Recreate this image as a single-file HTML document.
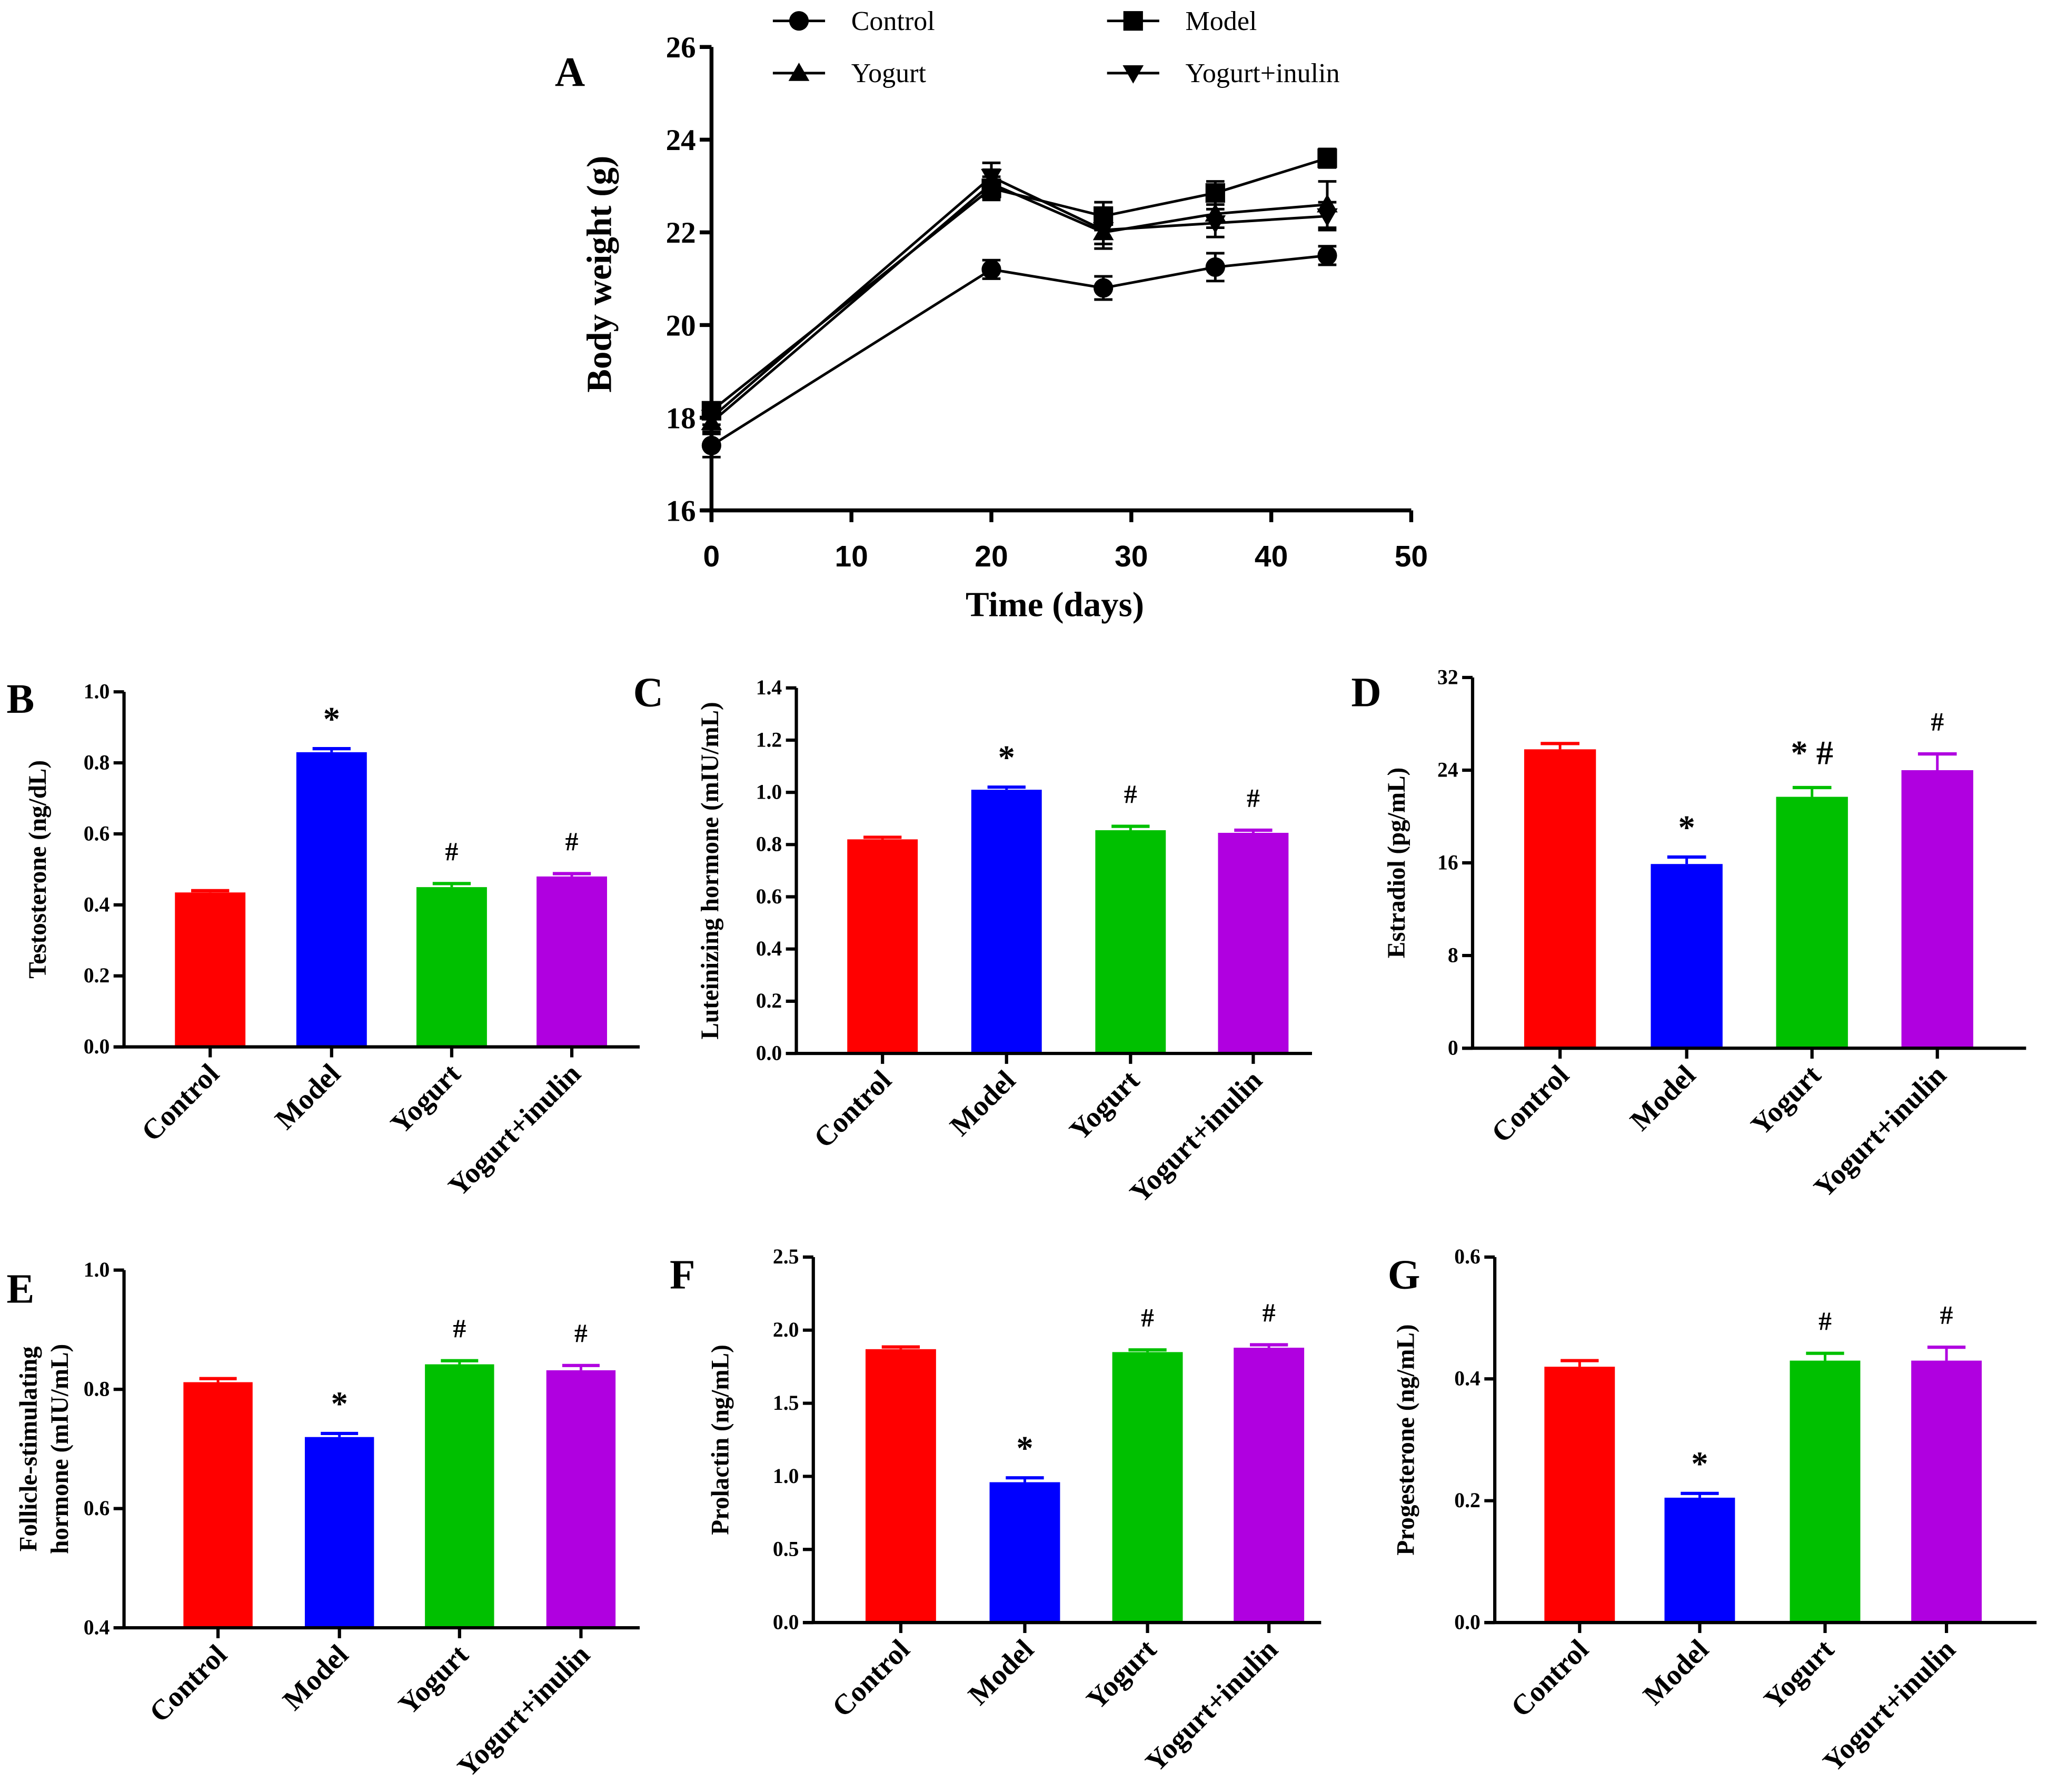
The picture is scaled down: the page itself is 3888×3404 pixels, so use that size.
<!DOCTYPE html>
<html><head><meta charset="utf-8"><style>
html,body{margin:0;padding:0;background:#fff;}
svg{display:block;}
text{font-family:"Liberation Serif",serif;fill:#000;}
.sans{font-family:"Liberation Sans",sans-serif;}
</style></head><body>
<svg id="fig" xmlns="http://www.w3.org/2000/svg" width="3888" height="3404" viewBox="0 0 1568 1372.8"></svg>
<script>
// ---------- Panel A data ----------
const daysA = [0, 20, 28, 36, 44];
const seriesNamesA = ["Control", "Model", "Yogurt", "Yogurt+inulin"];
const controlA = [17.4, 21.2, 20.8, 21.25, 21.5];
const modelA = [18.15, 22.95, 22.35, 22.85, 23.6];
const yogurtA = [17.9, 23.05, 22.0, 22.4, 22.6];
const inulinA = [18.0, 23.2, 22.05, 22.2, 22.35];
const controlErrA = [0.25, 0.2, 0.25, 0.3, 0.2];
const modelErrA = [0.15, 0.25, 0.3, 0.25, 0.2];
const yogurtErrA = [0.2, 0.3, 0.35, 0.3, 0.5];
const inulinErrA = [0.15, 0.3, 0.3, 0.3, 0.3];
const yTicksA = [16, 18, 20, 22, 24, 26];
const xTicksA = [0, 10, 20, 30, 40, 50];

// ---------- Bar panels data ----------
const groups = ["Control", "Model", "Yogurt", "Yogurt+inulin"];
const testosterone = [0.435, 0.83, 0.45, 0.48];
const testosteroneErr = [0.005, 0.01, 0.01, 0.008];
const testosteroneTicks = [0.0, 0.2, 0.4, 0.6, 0.8, 1.0];
const lh = [0.82, 1.01, 0.855, 0.845];
const lhErr = [0.008, 0.01, 0.015, 0.01];
const lhTicks = [0.0, 0.2, 0.4, 0.6, 0.8, 1.0, 1.2, 1.4];
const estradiol = [25.8, 15.9, 21.7, 24.0];
const estradiolErr = [0.5, 0.6, 0.8, 1.4];
const estradiolTicks = [0, 8, 16, 24, 32];
const fsh = [0.812, 0.72, 0.842, 0.832];
const fshErr = [0.006, 0.006, 0.006, 0.008];
const fshTicks = [0.4, 0.6, 0.8, 1.0];
const prolactin = [1.87, 0.96, 1.85, 1.88];
const prolactinErr = [0.015, 0.03, 0.015, 0.02];
const prolactinTicks = [0.0, 0.5, 1.0, 1.5, 2.0, 2.5];
const progesterone = [0.42, 0.205, 0.43, 0.43];
const progesteroneErr = [0.01, 0.007, 0.012, 0.022];
const progesteroneTicks = [0.0, 0.2, 0.4, 0.6];
const sigB = ["", "*", "#", "#"];
const sigC = ["", "*", "#", "#"];
const sigD = ["", "*", "* #", "#"];
const sigE = ["", "*", "#", "#"];
const sigF = ["", "*", "#", "#"];
const sigG = ["", "*", "#", "#"];

const NS = "http://www.w3.org/2000/svg";
const svg = document.getElementById("fig");
function el(tag, attrs, parent, txt) {
  const e = document.createElementNS(NS, tag);
  for (const k in attrs) e.setAttribute(k, attrs[k]);
  if (txt !== undefined) e.textContent = txt;
  (parent || svg).appendChild(e);
  return e;
}
const colors = ["#ff0000", "#0000ff", "#00c000", "#b000e0"];

// ---------- Panel A ----------
(function () {
  const g = el("g", {});
  
  
  const x0 = 545, x1 = 1081, yTop = 36, yBot = 391;
  const xs = v => x0 + (v - 0) / 50 * (x1 - x0);
  const ys = v => yBot - (v - 16) / 10 * (yBot - yTop);
  el("line", {x1: x0, y1: yTop, x2: x0, y2: yBot + 8, stroke: "#000", "stroke-width": 3}, g);
  el("line", {x1: x0 - 8, y1: yBot, x2: x1, y2: yBot, stroke: "#000", "stroke-width": 3}, g);
  yTicksA.forEach(t => {
    el("line", {x1: x0 - 9, y1: ys(t), x2: x0, y2: ys(t), stroke: "#000", "stroke-width": 3}, g);
    const tx = el("text", {x: x0 - 12, y: ys(t) + 8, "text-anchor": "end", "font-size": 23, "font-weight": "bold"}, g, t);
    
    
  });
  xTicksA.forEach(t => {
    el("line", {x1: xs(t), y1: yBot, x2: xs(t), y2: yBot + 9, stroke: "#000", "stroke-width": 3}, g);
    const tx = el("text", {x: xs(t), y: 434, "text-anchor": "middle", "font-size": 23, "font-weight": "bold", class: "sans"}, g, t);
    
    
  });
  const xt = el("text", {x: 808, y: 472, "text-anchor": "middle", "font-size": 27, "font-weight": "bold"}, g, "Time (days)");
  
  
  const yt = el("text", {x: 0, y: 0, transform: "translate(468,210) rotate(-90)", "text-anchor": "middle", "font-size": 27, "font-weight": "bold"}, g, "Body weight (g)");
  
  
  const pl = el("text", {x: 425, y: 66, "font-size": 32, "font-weight": "bold"}, g, "A");
  
  

  function marker(type, cx, cy, parent) {
    if (type === 0) return el("circle", {cx: cx, cy: cy, r: 7.5, fill: "#000"}, parent);
    if (type === 1) return el("rect", {x: cx - 7.5, y: cy - 7.5, width: 15, height: 15, fill: "#000"}, parent);
    if (type === 2) return el("polygon", {points: `${cx},${cy - 8} ${cx - 8},${cy + 6} ${cx + 8},${cy + 6}`, fill: "#000"}, parent);
    return el("polygon", {points: `${cx},${cy + 8} ${cx - 8},${cy - 6} ${cx + 8},${cy - 6}`, fill: "#000"}, parent);
  }
  const all = [controlA, modelA, yogurtA, inulinA];
  const errs = [controlErrA, modelErrA, yogurtErrA, inulinErrA];
  all.forEach((ser, si) => {
    const sg = el("g", {}, g);
    
    
    const pts = ser.map((v, i) => xs(daysA[i]) + "," + ys(v)).join(" ");
    el("polyline", {points: pts, fill: "none", stroke: "#000", "stroke-width": 2}, sg);
    ser.forEach((v, i) => {
      const cx = xs(daysA[i]);
      const e = errs[si][i];
      el("line", {x1: cx, y1: ys(v + e), x2: cx, y2: ys(v - e), stroke: "#000", "stroke-width": 2}, sg);
      el("line", {x1: cx - 7, y1: ys(v + e), x2: cx + 7, y2: ys(v + e), stroke: "#000", "stroke-width": 2}, sg);
      el("line", {x1: cx - 7, y1: ys(v - e), x2: cx + 7, y2: ys(v - e), stroke: "#000", "stroke-width": 2}, sg);
      const m = marker(si, cx, ys(v), sg);
      
      
    });
  });
  const legPos = [[592, 16], [848, 16], [592, 56], [848, 56]];
  seriesNamesA.forEach((n, i) => {
    const lg = el("g", {}, g);
    
    
    const [lx, ly] = legPos[i];
    el("line", {x1: lx, y1: ly, x2: lx + 40, y2: ly, stroke: "#000", "stroke-width": 2}, lg);
    marker(i, lx + 20, ly, lg);
    el("text", {x: lx + 60, y: ly + 7, "font-size": 21}, lg, n);
  });
})();

// ---------- Bar panels ----------
function barPanel(cfg) {
  const g = el("g", {});
  
  
  const {x0, xEnd, yTop, yBot, min, max, ticks, vals, errs, sig, centers, bw} = cfg;
  const ys = v => yBot - (v - min) / (max - min) * (yBot - yTop);
  vals.forEach((v, i) => {
    const cx = centers[i];
    const b = el("rect", {x: cx - bw / 2, y: ys(v), width: bw, height: yBot - ys(v), fill: colors[i]}, g);
    
    
    const e = errs[i];
    el("line", {x1: cx, y1: ys(v), x2: cx, y2: ys(v + e), stroke: colors[i], "stroke-width": 2}, g);
    el("line", {x1: cx - bw * 0.27, y1: ys(v + e), x2: cx + bw * 0.27, y2: ys(v + e), stroke: colors[i], "stroke-width": 2.5}, g);
    if (sig[i]) {
      const s = el("text", {x: cx, y: ys(v + e) - (sig[i].indexOf('#') >= 0 ? 18 : 14), "text-anchor": "middle", "font-size": sig[i].indexOf('*') >= 0 ? 26 : 20, "font-weight": "bold"}, g, sig[i]);
      
      
    }
    el("line", {x1: cx, y1: yBot, x2: cx, y2: yBot + 8, stroke: "#000", "stroke-width": 2.5}, g);
    const tl = el("text", {x: 0, y: 0, transform: `translate(${cx + 8},${yBot + 22}) rotate(-45)`, "text-anchor": "end", "font-size": 22, "font-weight": "bold"}, g, groups[i]);
    
    
  });
  el("line", {x1: x0, y1: yTop, x2: x0, y2: yBot, stroke: "#000", "stroke-width": 2.5}, g);
  el("line", {x1: x0 - 8, y1: yBot, x2: xEnd, y2: yBot, stroke: "#000", "stroke-width": 2.5}, g);
  ticks.forEach(t => {
    el("line", {x1: x0 - 8, y1: ys(t), x2: x0, y2: ys(t), stroke: "#000", "stroke-width": 2.5}, g);
    const tx = el("text", {x: x0 - 11, y: ys(t) + 5, "text-anchor": "end", "font-size": 16, "font-weight": "bold"}, g, t.toFixed(cfg.dec));
    
    
  });
  cfg.title.forEach((line, li) => {
    const yt = el("text", {x: 0, y: 0, transform: `translate(${cfg.titleX + li * 24},${(yTop + yBot) / 2}) rotate(-90)`, "text-anchor": "middle", "font-size": 19, "font-weight": "bold"}, g, line);
    
    
  });
  const pl = el("text", {x: cfg.lx, y: cfg.ly, "font-size": 32, "font-weight": "bold"}, g, cfg.label);
  
  
}

barPanel({name: "panel-b-testosterone", label: "B", lx: 5, ly: 546, x0: 95, xEnd: 490, yTop: 530, yBot: 802, min: 0, max: 1, ticks: testosteroneTicks, dec: 1, vals: testosterone, errs: testosteroneErr, sig: sigB, centers: [161, 254, 346, 438], bw: 54, title: ["Testosterone (ng/dL)"], titleX: 35});
barPanel({name: "panel-c-luteinizing-hormone", label: "C", lx: 485, ly: 541, x0: 610, xEnd: 1005, yTop: 527, yBot: 807, min: 0, max: 1.4, ticks: lhTicks, dec: 1, vals: lh, errs: lhErr, sig: sigC, centers: [676, 771, 866, 960], bw: 54, title: ["Luteinizing hormone (mIU/mL)"], titleX: 550});
barPanel({name: "panel-d-estradiol", label: "D", lx: 1035, ly: 541, x0: 1128, xEnd: 1552, yTop: 519, yBot: 803, min: 0, max: 32, ticks: estradiolTicks, dec: 0, vals: estradiol, errs: estradiolErr, sig: sigD, centers: [1195, 1292, 1388, 1484], bw: 55, title: ["Estradiol (pg/mL)"], titleX: 1076});
barPanel({name: "panel-e-fsh", label: "E", lx: 5, ly: 998, x0: 95, xEnd: 490, yTop: 973, yBot: 1247, min: 0.4, max: 1.0, ticks: fshTicks, dec: 1, vals: fsh, errs: fshErr, sig: sigE, centers: [167, 260, 352, 445], bw: 53, title: ["Follicle-stimulating", "hormone (mIU/mL)"], titleX: 28});
barPanel({name: "panel-f-prolactin", label: "F", lx: 513, ly: 987, x0: 623, xEnd: 1012, yTop: 963, yBot: 1243, min: 0, max: 2.5, ticks: prolactinTicks, dec: 1, vals: prolactin, errs: prolactinErr, sig: sigF, centers: [690, 785, 879, 972], bw: 54, title: ["Prolactin (ng/mL)"], titleX: 558});
barPanel({name: "panel-g-progesterone", label: "G", lx: 1063, ly: 987, x0: 1145, xEnd: 1560, yTop: 963, yBot: 1243, min: 0, max: 0.6, ticks: progesteroneTicks, dec: 1, vals: progesterone, errs: progesteroneErr, sig: sigG, centers: [1210, 1302, 1398, 1491], bw: 54, title: ["Progesterone (ng/mL)"], titleX: 1083});
</script>
</body></html>
